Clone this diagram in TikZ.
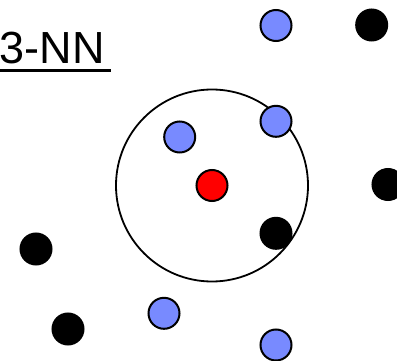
\documentclass[tikz,border=0pt]{standalone}
\usepackage{fontspec}
\setmainfont{Liberation Sans}
\definecolor{ptblue}{RGB}{120,138,255}
\begin{document}
\begin{tikzpicture}[x=1pt,y=-1pt,
  dot/.style={circle,draw=black,line width=2pt,minimum size=31pt,inner sep=0pt},
  bluedot/.style={dot,fill=ptblue},
  blackdot/.style={dot,fill=black},
  reddot/.style={dot,fill=red}]
\useasboundingbox (0,0) rectangle (397,361);
\node[anchor=base west,inner sep=0pt,font=\fontsize{45}{50}\selectfont] (t) at (-0.5,63.5) {3-NN};
\draw[line width=2.6pt] (t.base west) ++(0.5,7.3) coordinate (u1) -- ++(111,0) coordinate (u2);
\node[circle,draw=black,line width=1.8pt,minimum size=192pt,inner sep=0pt] (ring) at (212,185.5) {};
\node[reddot] (q) at (212,185.5) {};
\node[bluedot] (b1) at (276,25.5) {};
\node[bluedot] (b2) at (179.7,137) {};
\node[bluedot] (b3) at (276,121.3) {};
\node[bluedot] (b4) at (164,313.3) {};
\node[bluedot] (b5) at (276,345) {};
\node[blackdot] (k1) at (371.7,25) {};
\node[blackdot] (k2) at (388,184.5) {};
\node[blackdot] (k3) at (36,249) {};
\node[blackdot] (k4) at (276,233.3) {};
\node[blackdot] (k5) at (68,329) {};
\end{tikzpicture}
\end{document}
